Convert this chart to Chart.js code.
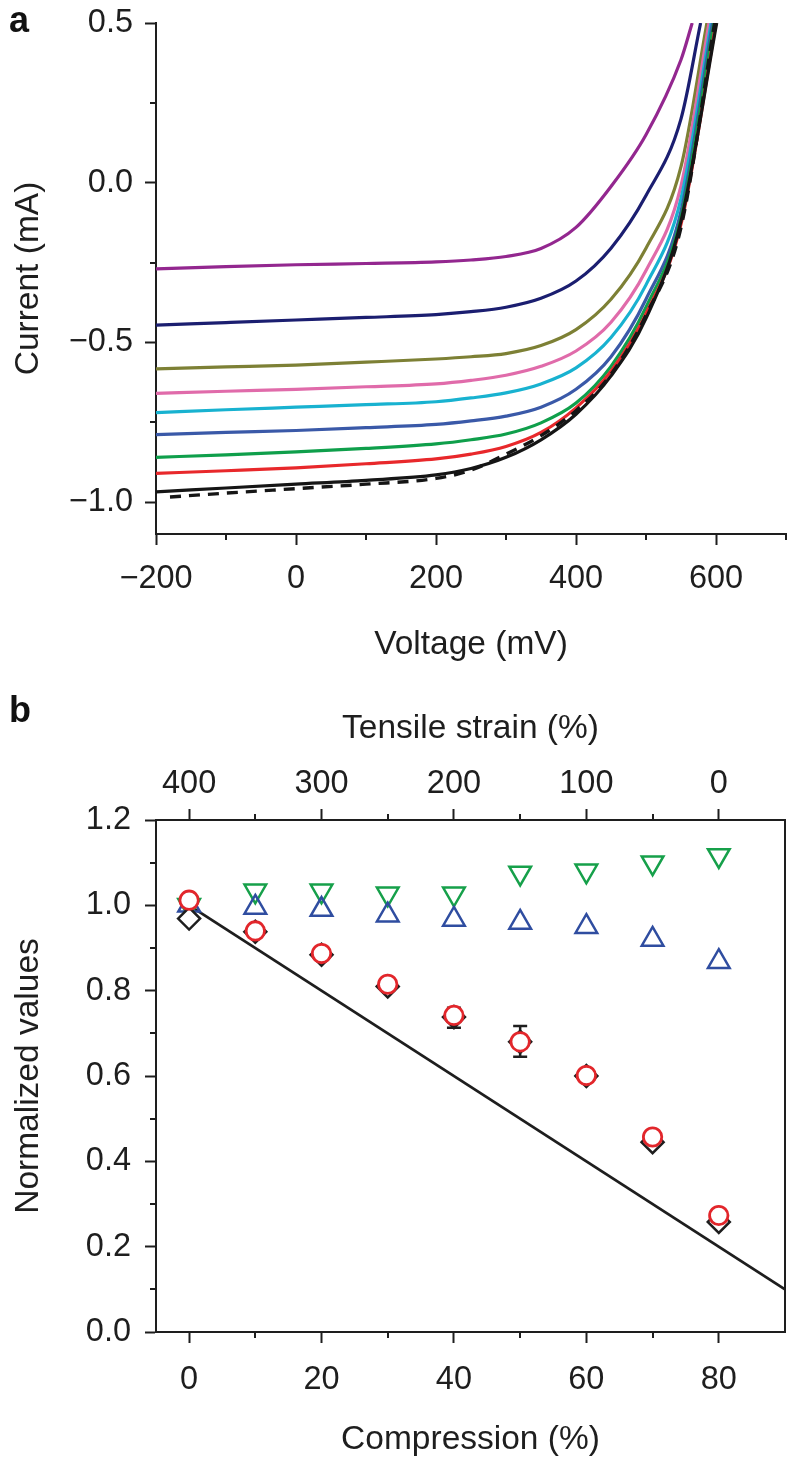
<!DOCTYPE html>
<html>
<head>
<meta charset="utf-8">
<script src="https://cdn.jsdelivr.net/npm/chart.js@4.4.1/dist/chart.umd.min.js"></script>
<style>
  html, body { margin:0; padding:0; background:#fff; }
  body { width:788px; height:1460px; position:relative; overflow:hidden; font-family:'Liberation Sans', Arial, sans-serif; }
  .box { position:absolute; left:0; width:788px; }
  .box canvas { display:block; }
  #boxA { top:0; height:680px; }
  #boxB { top:680px; height:780px; }
  .tag { position:absolute; left:9px; font-weight:bold; font-size:36px; line-height:36px; color:#111; }
</style>
</head>
<body>
<div class="box" id="boxA"><canvas id="chartIV" width="788" height="680"></canvas></div>
<div class="box" id="boxB"><canvas id="chartNorm" width="788" height="780"></canvas></div>
<div class="tag" style="top:2px">a</div>
<div class="tag" style="top:692px">b</div>
<script>
// ----- panel a : I-V curves (mV, mA)
const voltage = [-200, -100, 0, 100, 200, 250, 300, 350, 400, 450, 500, 550];
const iPurple = [-0.270, -0.263, -0.257, -0.253, -0.248, -0.242, -0.231, -0.206, -0.140, -0.012, 0.150, 0.385];
const iNavy   = [-0.446, -0.438, -0.430, -0.422, -0.413, -0.404, -0.390, -0.362, -0.308, -0.205, -0.040, 0.200];
const iOlive  = [-0.583, -0.577, -0.571, -0.562, -0.552, -0.545, -0.535, -0.510, -0.460, -0.365, -0.205, 0.050];
const iPink   = [-0.660, -0.653, -0.647, -0.639, -0.630, -0.619, -0.603, -0.575, -0.527, -0.437, -0.275, -0.010];
const iCyan   = [-0.720, -0.711, -0.703, -0.695, -0.686, -0.674, -0.658, -0.630, -0.580, -0.485, -0.320, -0.050];
const iBlue   = [-0.789, -0.782, -0.776, -0.767, -0.757, -0.746, -0.731, -0.703, -0.647, -0.545, -0.365, -0.090];
const iGreen  = [-0.860, -0.852, -0.843, -0.832, -0.818, -0.805, -0.787, -0.752, -0.690, -0.575, -0.390, -0.110];
const iRed    = [-0.910, -0.902, -0.893, -0.880, -0.865, -0.850, -0.826, -0.782, -0.705, -0.590, -0.410, -0.130];
const iBlack  = [-0.968, -0.956, -0.944, -0.932, -0.915, -0.895, -0.860, -0.805, -0.725, -0.605, -0.425, -0.120];
// voltage where each curve leaves the top of the plot (0.5 mA)
const vTop = [566, 578, 587, 590, 593, 595, 597, 600, 601];
const iTop = 0.5;
// dashed reference curve
const vDashed = [-180, -100, 0, 100, 200, 250, 300, 350, 400, 450, 500, 550, 598];
const iDashed = [-0.984, -0.972, -0.958, -0.944, -0.926, -0.900, -0.850, -0.792, -0.714, -0.600, -0.415, -0.140, 0.5];

const voltTicks = [-200, 0, 200, 400, 600];
const voltMinor = [-100, 100, 300, 500, 700];
const currTicks = [-1.0, -0.5, 0, 0.5];
const currMinor = [-0.75, -0.25, 0.25];

// ----- panel b : normalized values vs compression
const compression = [0, 10, 20, 30, 40, 50, 60, 70, 80];
const greenDown = [1.000, 1.034, 1.034, 1.027, 1.027, 1.076, 1.081, 1.100, 1.117];
const blueUp    = [1.000, 0.995, 0.990, 0.977, 0.967, 0.960, 0.950, 0.920, 0.868];
const redCircle = [1.012, 0.940, 0.887, 0.815, 0.742, 0.680, 0.601, 0.457, 0.273];
const blackDiam = [0.969, 0.938, 0.884, 0.810, 0.738, 0.680, 0.600, 0.445, 0.258];
const errLow    = [null, null, null, null, 0.713, 0.645, null, null, null];
const errHigh   = [null, null, null, null, 0.760, 0.717, null, null, null];
const refLineX  = [0, 90];
const refLineY  = [1.0, 0.1];

const compTicks = [0, 20, 40, 60, 80];
const compMinor = [10, 30, 50, 70];
const tensileTicks = [400, 300, 200, 100, 0];
const tensileMinor = [350, 250, 150, 50];
const normTicks = [0, 0.2, 0.4, 0.6, 0.8, 1.0, 1.2];
const normMinor = [0.1, 0.3, 0.5, 0.7, 0.9, 1.1];

const ink = '#1e1e1e';
const font = "'Liberation Sans', Arial, sans-serif";
Chart.defaults.font.family = font;
Chart.defaults.color = ink;

const minus = v => (v < 0 ? '\u2212' : '') + Math.abs(v);
const fixed1 = v => (v < 0 ? '\u2212' : '') + Math.abs(v).toFixed(1);
const setTicks = arr => s => { s.ticks = arr.map(v => ({ value: v })); };
// fixed box sizes, no label overflow padding
const fixH = h => s => { s.height = h; s.paddingLeft = 0; s.paddingRight = 0; };
const fixW = w => s => { s.width = w; s.paddingTop = 0; s.paddingBottom = 0; };

// short minor ticks, drawn outward from each axis line
const minorTicks = {
  id: 'minorTicks',
  afterDraw(chart, args, opts) {
    const ctx = chart.ctx;
    ctx.save();
    ctx.strokeStyle = ink;
    ctx.lineWidth = 2;
    (opts.list || []).forEach(m => {
      const s = chart.scales[m.id];
      m.values.forEach(v => {
        const p = Math.round(s.getPixelForValue(v));
        ctx.beginPath();
        if (s.position === 'left') { ctx.moveTo(s.right, p); ctx.lineTo(s.right - 6, p); }
        else if (s.position === 'bottom') { ctx.moveTo(p, s.top); ctx.lineTo(p, s.top + 6); }
        else if (s.position === 'top') { ctx.moveTo(p, s.bottom); ctx.lineTo(p, s.bottom - 6); }
        ctx.stroke();
      });
    });
    ctx.restore();
  }
};

// error bars on the black diamonds
const errorBars = {
  id: 'errorBars',
  afterDatasetDraw(chart, args) {
    if (chart.canvas.id !== 'chartNorm' || args.index !== 1) return;
    const { x, y } = chart.scales;
    const ctx = chart.ctx;
    ctx.save();
    ctx.strokeStyle = ink;
    ctx.lineWidth = 2.5;
    compression.forEach((c, i) => {
      if (errLow[i] == null) return;
      const px = x.getPixelForValue(c);
      const lo = y.getPixelForValue(errLow[i]), hi = y.getPixelForValue(errHigh[i]);
      ctx.beginPath();
      ctx.moveTo(px, lo); ctx.lineTo(px, hi);
      ctx.moveTo(px - 7, lo); ctx.lineTo(px + 7, lo);
      ctx.moveTo(px - 7, hi); ctx.lineTo(px + 7, hi);
      ctx.stroke();
    });
    ctx.restore();
  }
};

const axisGrid = { drawOnChartArea: false, drawTicks: true, tickLength: 11, tickWidth: 2, tickColor: ink };
const axisBorder = { display: true, color: ink, width: 2 };
const tickFont = { size: 32.5 };
const titleFont = { size: 33.5 };

// ----- a
const curves = [iPurple, iNavy, iOlive, iPink, iCyan, iBlue, iGreen, iRed, iBlack];
const curveColors = ['#93278F', '#1B1E70', '#7D8035', '#E06BAA', '#18B2D0', '#3A59A8', '#0F9F4B', '#E8282B', '#151515'];

const ivSets = curves.map((cur, k) => ({
  data: voltage.map((v, j) => ({ x: v, y: cur[j] })).concat({ x: vTop[k], y: iTop }),
  borderColor: curveColors[k], borderWidth: 3.2, pointRadius: 0,
  cubicInterpolationMode: 'monotone', fill: false
})).reverse();
ivSets.unshift({
  data: vDashed.map((v, j) => ({ x: v, y: iDashed[j] })),
  borderColor: '#151515', borderWidth: 3.4, borderDash: [11, 8], pointRadius: 0,
  cubicInterpolationMode: 'monotone', fill: false
});

new Chart(document.getElementById('chartIV'), {
  type: 'line',
  data: { datasets: ivSets },
  plugins: [minorTicks],
  options: {
    responsive: false, animation: false, events: [],
    layout: { autoPadding: false, padding: { top: 23, right: 2, left: 0, bottom: 0 } },
    plugins: {
      legend: { display: false }, tooltip: { enabled: false },
      minorTicks: { list: [{ id: 'x', values: voltMinor }, { id: 'y', values: currMinor }] }
    },
    scales: {
      x: {
        type: 'linear', position: 'bottom', min: -200, max: 700,
        afterBuildTicks: setTicks(voltTicks),
        afterFit: fixH(146),
        grid: axisGrid, border: axisBorder,
        ticks: { font: tickFont, color: ink, padding: 15, maxRotation: 0, autoSkip: false, callback: v => minus(v) },
        title: { display: true, text: 'Voltage (mV)', font: titleFont, color: ink, padding: { top: 0, bottom: 15 } }
      },
      y: {
        type: 'linear', position: 'left', min: -1.1, max: 0.5,
        afterBuildTicks: setTicks(currTicks),
        afterFit: fixW(156),
        grid: axisGrid, border: axisBorder,
        ticks: { font: tickFont, color: ink, padding: 12, autoSkip: false, callback: v => fixed1(v) },
        title: { display: true, text: 'Current (mA)', font: titleFont, color: ink, padding: { top: 9, bottom: 0 } }
      }
    }
  }
});

// ----- b
const pts = arr => compression.map((c, i) => ({ x: c, y: arr[i] }));

new Chart(document.getElementById('chartNorm'), {
  type: 'scatter',
  data: {
    datasets: [
      { data: pts(redCircle), pointStyle: 'circle', pointRadius: 9.2, borderColor: '#E2262B', backgroundColor: '#fff', borderWidth: 2.8 },
      { data: pts(blackDiam), pointStyle: 'rectRot', pointRadius: 11, borderColor: ink, backgroundColor: '#fff', borderWidth: 2.5 },
      { data: pts(blueUp), pointStyle: 'triangle', pointRadius: 12.5, borderColor: '#2F4DA0', backgroundColor: 'rgba(0,0,0,0)', borderWidth: 2.5 },
      { data: pts(greenDown), pointStyle: 'triangle', rotation: 180, pointRadius: 12.5, borderColor: '#16A04A', backgroundColor: 'rgba(0,0,0,0)', borderWidth: 2.5 },
      { data: refLineX.map((x, i) => ({ x, y: refLineY[i] })), showLine: true, pointRadius: 0, borderColor: ink, borderWidth: 2.8 }
    ]
  },
  plugins: [minorTicks, errorBars],
  options: {
    responsive: false, animation: false, events: [],
    layout: { autoPadding: false, padding: 0 },
    plugins: {
      legend: { display: false }, tooltip: { enabled: false },
      minorTicks: { list: [{ id: 'x', values: compMinor }, { id: 'xT', values: tensileMinor }, { id: 'y', values: normMinor }] }
    },
    scales: {
      x: {
        type: 'linear', position: 'bottom', min: -5, max: 90,
        afterBuildTicks: setTicks(compTicks),
        afterFit: fixH(128),
        grid: axisGrid, border: axisBorder,
        ticks: { font: tickFont, color: ink, padding: 18, maxRotation: 0, autoSkip: false },
        title: { display: true, text: 'Compression (%)', font: titleFont, color: ink, padding: { top: 0, bottom: 0 } }
      },
      xT: {
        type: 'linear', position: 'top', min: -50, max: 425, reverse: true,
        afterBuildTicks: setTicks(tensileTicks),
        afterFit: fixH(140),
        grid: axisGrid, border: axisBorder,
        ticks: { font: tickFont, color: ink, padding: 5, maxRotation: 0, autoSkip: false },
        title: { display: true, text: 'Tensile strain (%)', font: titleFont, color: ink, padding: { top: 29, bottom: 0 } }
      },
      y: {
        type: 'linear', position: 'left', min: 0, max: 1.2,
        afterBuildTicks: setTicks(normTicks),
        afterFit: fixW(156),
        grid: axisGrid, border: axisBorder,
        ticks: { font: tickFont, color: ink, padding: 14, autoSkip: false, callback: v => v.toFixed(1) },
        title: { display: true, text: 'Normalized values', font: titleFont, color: ink, padding: { top: 9, bottom: 0 } }
      },
      yR: {
        type: 'linear', position: 'right', min: 0, max: 1.2,
        afterFit: fixW(3),
        grid: { display: false, drawTicks: false }, border: axisBorder,
        ticks: { display: false }
      }
    }
  }
});
</script>
</body>
</html>
